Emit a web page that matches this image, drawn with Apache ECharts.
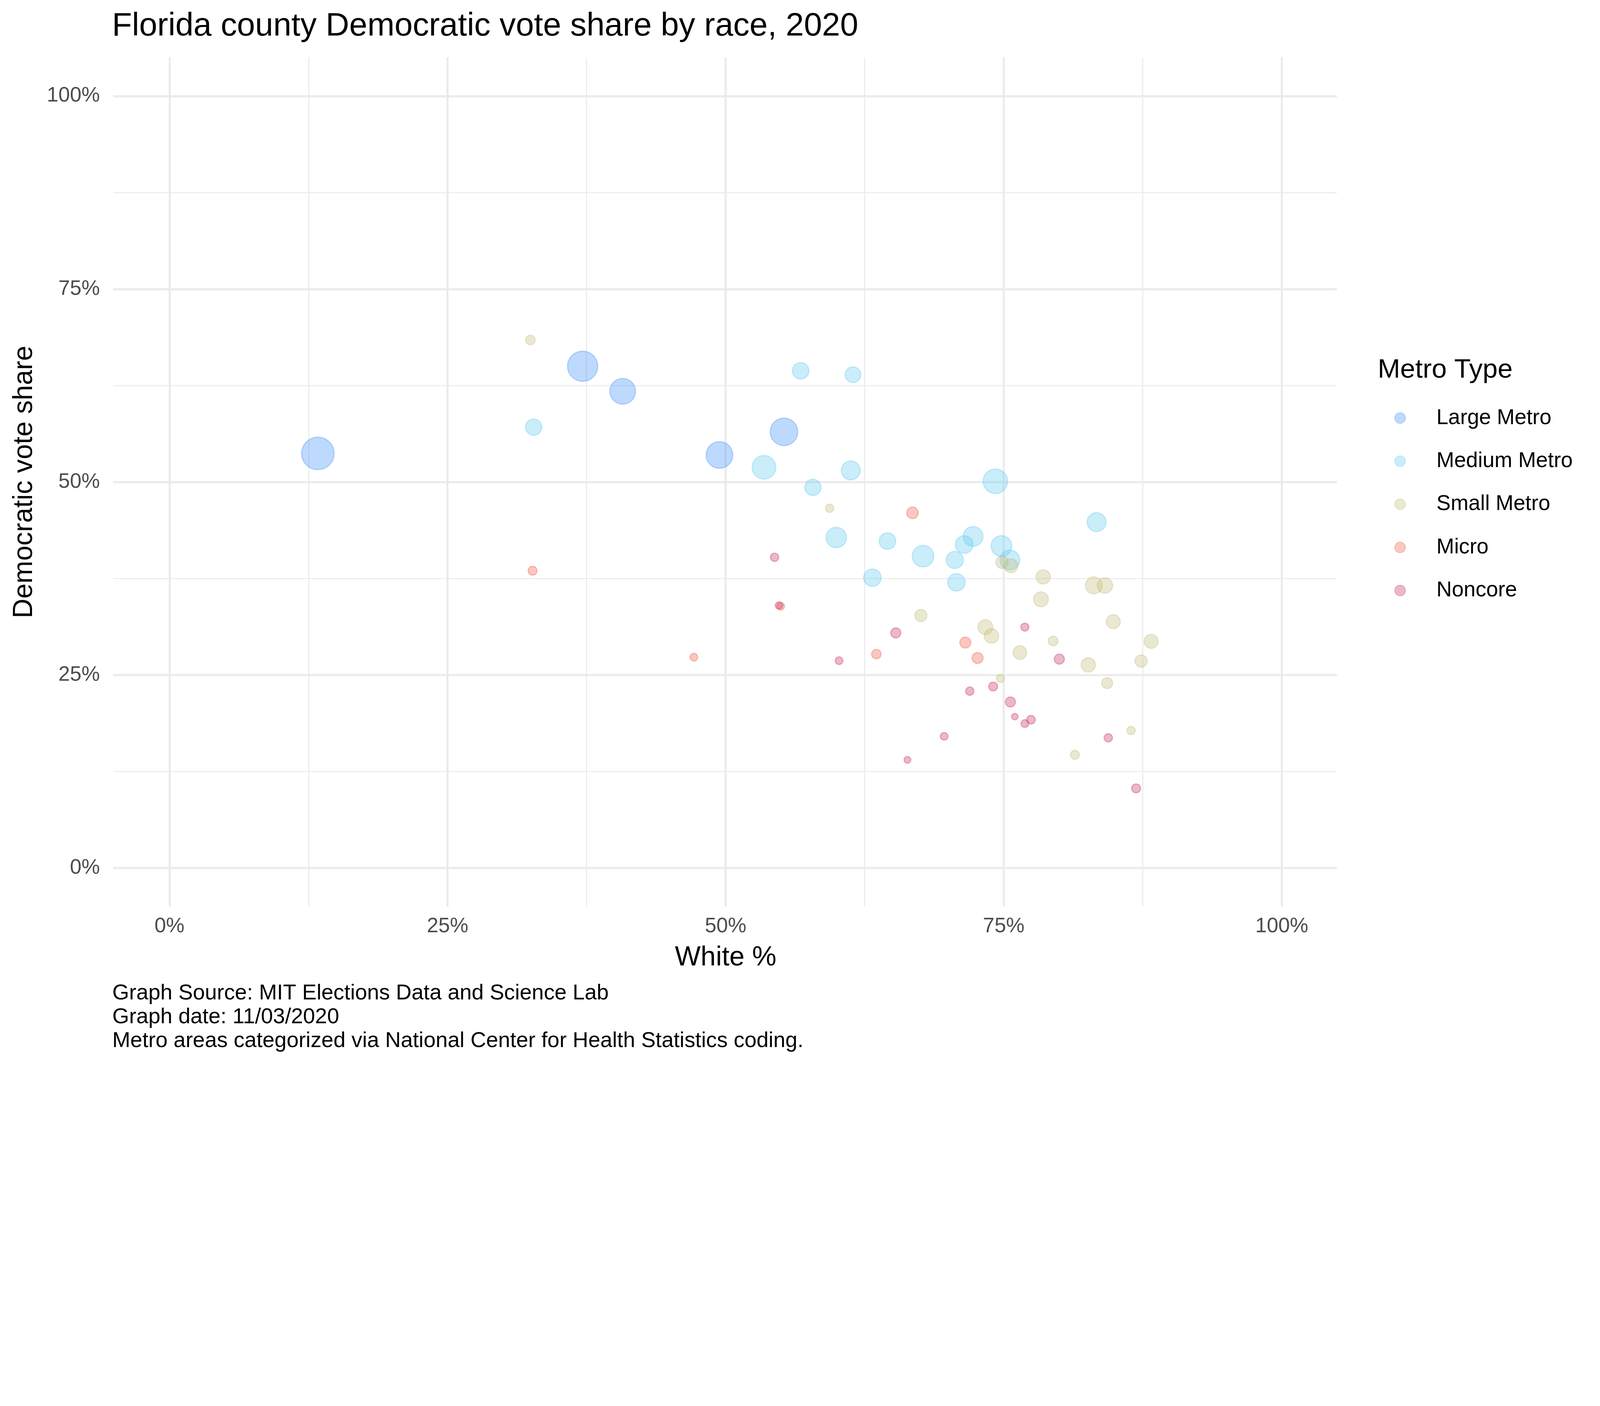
<!DOCTYPE html>
<html>
<head>
<meta charset="utf-8">
<script src="https://cdn.jsdelivr.net/npm/echarts@6/dist/echarts.min.js"></script>
<style>
html,body{margin:0;padding:0;background:#fff;overflow:hidden;}
#chart{width:100vw;height:100vh;}
</style>
</head>
<body>
<div id="chart"></div>
<script>
// ---- data: [white %, Democratic share %, size value] ----
const categories = ['Large Metro', 'Medium Metro', 'Small Metro', 'Micro', 'Noncore'];
const largeMetro = [[13.4,53.7,114],[37.2,65.0,106],[40.8,61.75,91],[55.3,56.5,97],[49.5,53.5,94]];
const mediumMetro = [[56.8,64.4,60],[61.5,63.9,57],[32.8,57.1,59],[53.5,51.9,84],[57.9,49.3,59],[61.3,51.5,68],
  [74.3,50.1,87],[60.0,42.8,73],[64.6,42.35,60],[67.8,40.4,77],[70.65,39.9,62],[71.5,41.9,64],[72.3,42.95,71],
  [74.85,41.7,74],[75.6,39.9,71],[83.4,44.8,68],[63.25,37.6,63],[70.8,37.0,63]];
const smallMetro = [[32.5,68.4,36],[59.4,46.6,32],[74.9,39.6,46],[75.7,39.15,51],[78.6,37.7,52],[83.15,36.6,61],
  [84.15,36.6,56],[78.4,34.8,54],[67.6,32.7,45],[73.4,31.2,54],[73.95,30.05,53],[84.9,31.9,51],[79.5,29.4,37],
  [88.3,29.35,51],[76.5,27.9,50],[82.65,26.3,52],[87.4,26.8,45],[74.75,24.55,31],[84.35,23.95,41],[86.5,17.8,32],[81.45,14.65,34]];
const micro = [[32.7,38.5,34],[55.0,33.9,30],[47.2,27.3,30],[66.85,46.0,43],[71.6,29.2,41],[63.6,27.7,36],[72.7,27.2,41]];
const noncore = [[54.45,40.25,32],[54.85,34.0,29],[60.25,26.85,30],[65.35,30.45,38],[76.95,31.2,31],[80.05,27.05,38],
  [72.0,22.9,32],[74.1,23.5,34],[75.65,21.5,38],[76.05,19.6,26],[77.5,19.2,33],[76.95,18.7,30],[69.7,17.05,30],
  [84.45,16.85,32],[66.4,14.0,27],[86.95,10.3,34]];
const tickValues = [0, 25, 50, 75, 100];
const seriesData = [largeMetro, mediumMetro, smallMetro, micro, noncore];
const baseColors = ['63,142,252', '98,203,241', '195,186,122', '241,93,67', '200,45,95'];

const FONT = 'Liberation Sans';
const GRID_COLOR = '#EBEBEB';

const el = document.getElementById('chart');
const W = window.innerWidth, H = window.innerHeight;
const s = Math.min(W / 5400, H / 3600);
const S = v => v * s;
const BORDER = S(4);

const chart = echarts.init(el, null, {renderer: 'canvas', width: W, height: H});

const series = categories.map((name, i) => ({
  name: name,
  type: 'scatter',
  xAxisIndex: 0,
  yAxisIndex: 0,
  data: seriesData[i],
  symbol: 'circle',
  symbolSize: v => S(v[2] - 4),
  itemStyle: {
    color: 'rgba(' + baseColors[i] + ',0.42)',
    borderColor: 'rgba(' + baseColors[i] + ',0.42)',
    borderWidth: BORDER
  },
  emphasis: {disabled: true},
  z: 5
}));

const tickLabel = {
  formatter: v => (tickValues.indexOf(v) >= 0 ? v + '%' : ''),
  fontSize: S(70),
  color: '#4D4D4D',
  fontFamily: FONT
};

const option = {
  animation: false,
  backgroundColor: '#ffffff',
  textStyle: {fontFamily: FONT},
  title: [
    {
      text: 'Florida county Democratic vote share by race, 2020',
      left: S(378), top: S(24), padding: 0,
      textStyle: {fontSize: S(110), fontWeight: 'normal', color: '#000', fontFamily: FONT, lineHeight: S(130)}
    },
    {
      text: 'Graph Source: MIT Elections Data and Science Lab\nGraph date: 11/03/2020\nMetro areas categorized via National Center for Health Statistics coding.',
      left: S(379), top: S(3314), padding: 0,
      textStyle: {fontSize: S(73), fontWeight: 'normal', color: '#000', fontFamily: FONT, lineHeight: S(80)}
    },
    {
      text: 'Metro Type',
      left: S(4650), top: S(1200), padding: 0,
      textStyle: {fontSize: S(91), fontWeight: 'normal', color: '#000', fontFamily: FONT, lineHeight: S(100)}
    }
  ],
  legend: {
    orient: 'vertical',
    left: S(4706), top: S(1375), padding: 0,
    itemWidth: S(36), itemHeight: S(36), itemGap: S(73),
    icon: 'circle',
    data: categories,
    textStyle: {fontSize: S(72), color: '#000', fontFamily: FONT, lineHeight: S(36), padding: [0, 0, 0, S(98)]}
  },
  grid: [
    {left: S(382), right: W - S(4512), top: S(194), bottom: H - S(3060)},
    {left: S(382), right: W - S(4512), top: S(324), bottom: H - S(2930)},
    {left: S(572), right: W - S(4326), top: S(194), bottom: H - S(3060)}
  ],
  xAxis: [
    {gridIndex: 0, type: 'value', min: -5, max: 105, show: false},
    {gridIndex: 1, type: 'value', min: -5, max: 105, show: false},
    {
      gridIndex: 2, type: 'value', min: 0, max: 100, interval: 25,
      axisLine: {show: false}, axisTick: {show: false},
      axisLabel: Object.assign({margin: S(33), lineHeight: S(70)}, tickLabel),
      splitLine: {show: true, lineStyle: {color: GRID_COLOR, width: S(7)}},
      minorTick: {show: false, splitNumber: 2},
      minorSplitLine: {show: true, lineStyle: {color: GRID_COLOR, width: S(3.5)}},
      name: 'White %', nameLocation: 'middle', nameGap: S(128),
      nameTextStyle: {fontSize: S(92), color: '#000', fontFamily: FONT, lineHeight: S(92)}
    }
  ],
  yAxis: [
    {gridIndex: 0, type: 'value', min: -5, max: 105, show: false},
    {
      gridIndex: 1, type: 'value', min: 0, max: 100, interval: 25,
      axisLine: {show: false}, axisTick: {show: false},
      axisLabel: Object.assign({margin: S(45)}, tickLabel),
      splitLine: {show: true, lineStyle: {color: GRID_COLOR, width: S(7)}},
      minorTick: {show: false, splitNumber: 2},
      minorSplitLine: {show: true, lineStyle: {color: GRID_COLOR, width: S(3.5)}},
      name: 'Democratic vote share', nameLocation: 'middle', nameGap: S(253), nameRotate: 90,
      nameTextStyle: {fontSize: S(92), color: '#000', fontFamily: FONT, lineHeight: S(92)}
    },
    {gridIndex: 2, type: 'value', min: -5, max: 105, show: false}
  ],
  series: series
};

chart.setOption(option);
</script>
</body>
</html>
